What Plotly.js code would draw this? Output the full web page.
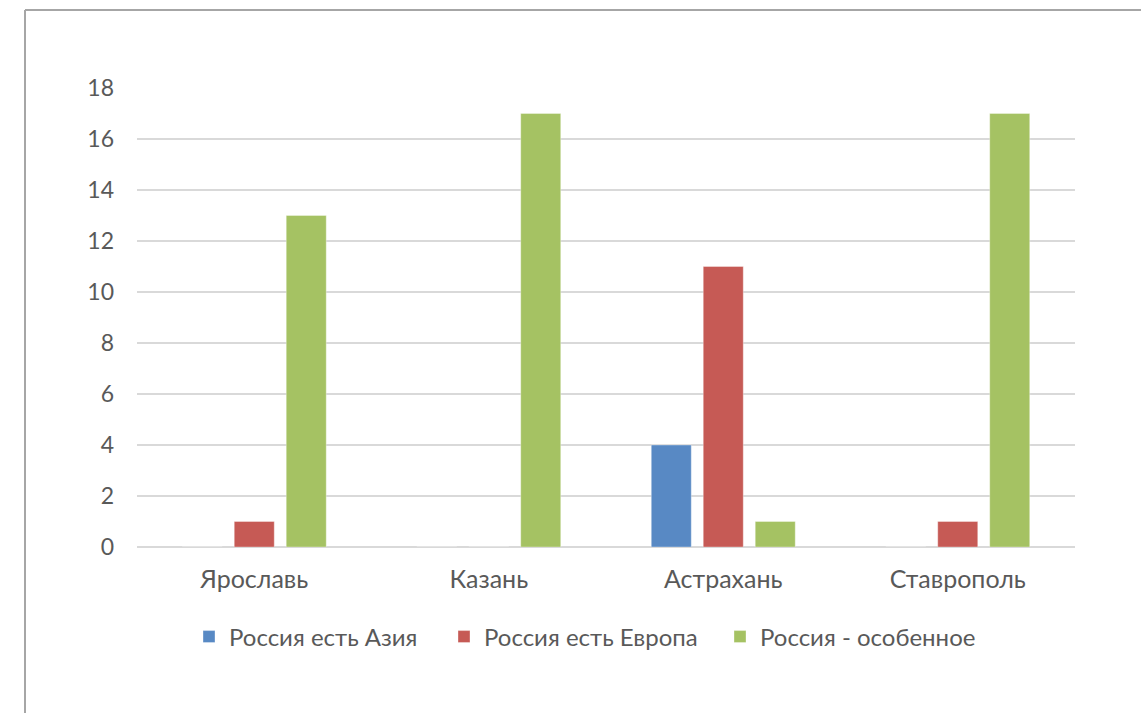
<!DOCTYPE html>
<html><head><meta charset="utf-8">
<script src="https://cdn.plot.ly/plotly-3.0.1.min.js"></script>
<style>html,body{margin:0;padding:0;background:#fff}#chart{width:1141px;height:713px}</style>
</head><body><div id="chart"></div>
<script>
const categories = ["Ярославь", "Казань", "Астрахань", "Ставрополь"];
const seriesNames = ["Россия есть Азия", "Россия есть Европа", "Россия - особенное"];
const asia = [0, 0, 4, 0];
const europe = [1, 0, 11, 1];
const special = [13, 17, 1, 17];
const yTicks = [0, 2, 4, 6, 8, 10, 12, 14, 16, 18];
const colors = ["#5889c4", "#c65a55", "#a5c263"];

const fam = "Lato, Open Sans, sans-serif";
const legendIds = ["legend", "legend2", "legend3"];
const legendTextStartPx = [231, 486, 762];
const plotLeft = 137, plotW = 938;
const traces = [asia, europe, special].map((v, i) => ({
  type: "bar", x: categories, y: v, name: seriesNames[i], legend: legendIds[i],
  marker: {color: colors[i], line: {width: 1, color: "rgba(255,255,255,0.35)"}}, hoverinfo: "x+y"
}));
const legendBase = {orientation: "h", y: -0.196, yanchor: "middle", xanchor: "left",
  font: {family: fam, size: 24, color: "#595959"}, itemwidth: 30, bgcolor: "rgba(0,0,0,0)"};
const layout = {
  width: 1141, height: 713,
  margin: {l: 137, r: 66, t: 88, b: 166},
  paper_bgcolor: "#fff", plot_bgcolor: "#fff",
  barmode: "group", bargap: 0.335, bargroupgap: 0.23,
  font: {family: fam, size: 23, color: "#595959"},
  showlegend: true,
  xaxis: {showgrid: false, showline: false, zeroline: false, ticks: "", ticklabelstandoff: 15,
    tickfont: {family: fam, size: 25, color: "#595959"}, fixedrange: true},
  yaxis: {range: [0, 18], tickvals: yTicks, ticktext: yTicks.map(String), showgrid: true,
    gridcolor: "#d9d9d9", gridwidth: 2, zeroline: true, zerolinecolor: "#d9d9d9", zerolinewidth: 2,
    showline: false, ticks: "", ticklabelstandoff: 22,
    tickfont: {family: fam, size: 23, color: "#595959"}, fixedrange: true},
  shapes: [
    {type: "line", xref: "paper", yref: "paper", x0: -112/938, x1: 1100/938, y0: (547-10)/459, y1: (547-10)/459,
      line: {color: "#a6a6a6", width: 2}},
    {type: "line", xref: "paper", yref: "paper", x0: -112/938, x1: -112/938, y0: (547-10)/459, y1: -200/459,
      line: {color: "#a6a6a6", width: 2}}
  ]
};
legendIds.forEach((id, i) => {
  layout[id] = Object.assign({}, legendBase, {x: (legendTextStartPx[i] - 42 - plotLeft) / plotW});
});
Plotly.newPlot("chart", traces, layout, {displayModeBar: false, staticPlot: true});
</script></body></html>
